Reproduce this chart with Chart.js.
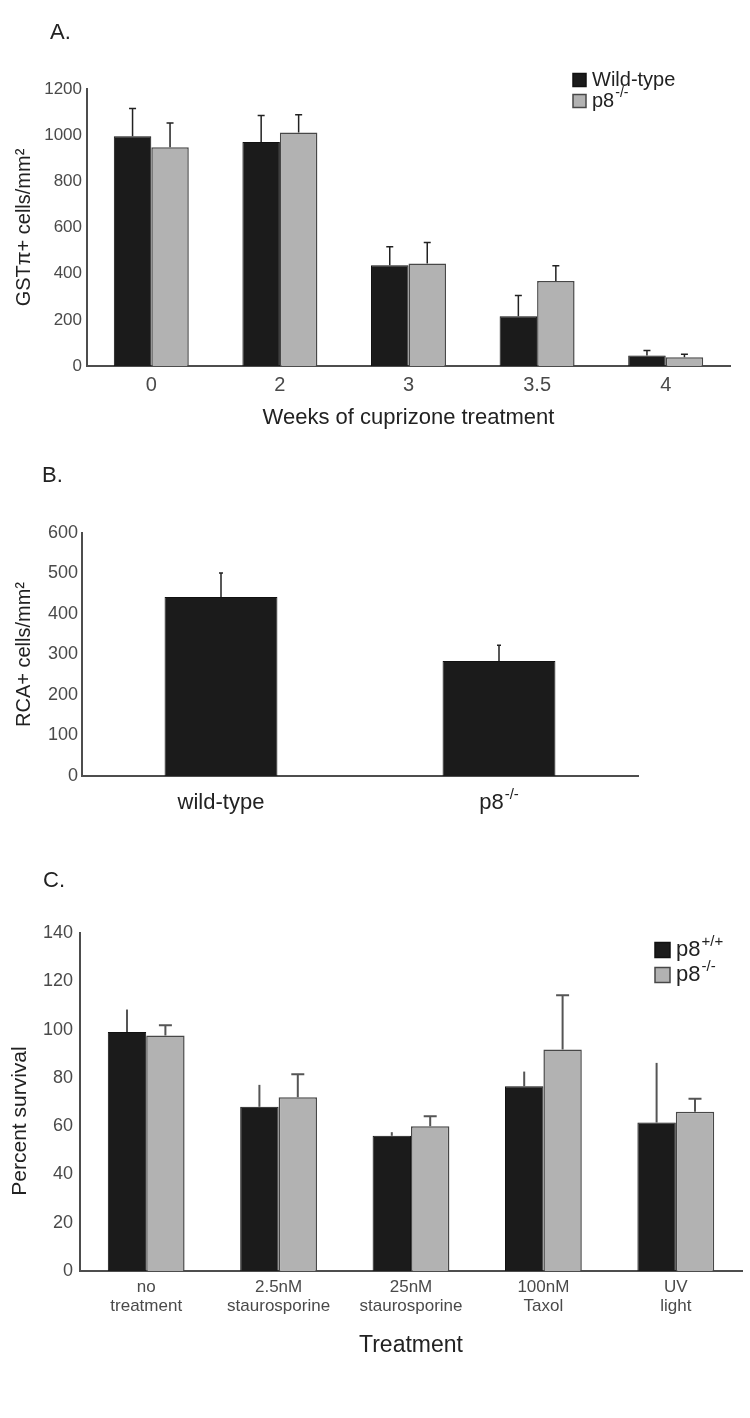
<!DOCTYPE html>
<html>
<head>
<meta charset="utf-8">
<title>p8 cuprizone figure</title>
<script src="https://cdn.jsdelivr.net/npm/chart.js@4.4.0/dist/chart.umd.min.js"></script>
<style>
  html, body { margin: 0; padding: 0; background: #fff; }
  #page { position: relative; width: 750px; height: 1418px; overflow: hidden; font-family: "Liberation Sans", Arial, sans-serif; }
  #page canvas { position: absolute; left: 0; }
  .panel-tag { position: absolute; font-size: 22px; line-height: 22px; color: #222; }
</style>
</head>
<body>
<div id="page">
  <canvas id="chartA" width="750" height="440" style="top:0"></canvas>
  <canvas id="chartB" width="750" height="400" style="top:440px"></canvas>
  <canvas id="chartC" width="750" height="578" style="top:840px"></canvas>
  <div class="panel-tag" style="left:50px;top:21px">A.</div>
  <div class="panel-tag" style="left:42px;top:464px">B.</div>
  <div class="panel-tag" style="left:43px;top:869px">C.</div>
</div>
<script>
// panel A - GSTpi+ cells per week of cuprizone
const weeks = ["0", "2", "3", "3.5", "4"];
const gstWild = [995, 970, 437, 216, 45];
const gstWildErr = [120, 115, 80, 89, 22];
const gstP8 = [948, 1012, 444, 368, 38];
const gstP8Err = [105, 76, 91, 66, 13];
const legendA = [["Wild-type", ""], ["p8", "-/-"]];

// panel B - RCA+ cells
const rcaGroups = ["wild-type", "p8"];
const rcaSup = ["", "-/-"];
const rcaValues = [442, 284];
const rcaErr = [59, 39];

// panel C - percent survival
const treatments = [["no", "treatment"], ["2.5nM", "staurosporine"], ["25nM", "staurosporine"], ["100nM", "Taxol"], ["UV", "light"]];
const survWild = [99, 68, 56, 76.5, 61.5];
const survWildErr = [9.3, 9.1, 1.5, 6.1, 24.7];
const survP8 = [97.5, 72, 60, 91.7, 66];
const survP8Err = [4.3, 9.5, 4.1, 22.5, 5.3];
const legendC = [["p8", "+/+"], ["p8", "-/-"]];

const FONT = '"Liberation Sans", Arial, sans-serif';
const BLACK = "#1b1b1b";
const GREY = "#b2b2b2";
const AXIS = "#4d4d4d";
const TICK = "#4a4a4a";
const TITLE = "#222";

Chart.defaults.font.family = FONT;

// text with a small raised part, e.g. p8 -/-
function drawSup(ctx, base, sup, x, y, size, align) {
  const big = size + "px " + FONT;
  const small = Math.round(size * 0.68) + "px " + FONT;
  ctx.font = big;
  const wBase = ctx.measureText(base).width;
  ctx.font = small;
  const wSup = sup ? ctx.measureText(sup).width + 1 : 0;
  let left = x;
  if (align === "center") left = x - (wBase + wSup) / 2;
  ctx.textAlign = "left";
  ctx.textBaseline = "middle";
  ctx.font = big;
  ctx.fillText(base, left, y);
  if (sup) {
    ctx.font = small;
    ctx.fillText(sup, left + wBase + 1, y - size * 0.38);
  }
}

// upward error bars from the bar tops
const errorBars = {
  id: "errorBars",
  afterDatasetsDraw(chart, args, opts) {
    const ctx = chart.ctx;
    const yScale = chart.scales.y;
    ctx.save();
    ctx.strokeStyle = opts.color;
    ctx.lineWidth = opts.width;
    opts.errors.forEach((errs, di) => {
      const meta = chart.getDatasetMeta(di);
      const vals = chart.data.datasets[di].data;
      const cap = opts.caps[di];
      meta.data.forEach((bar, j) => {
        const yTop = yScale.getPixelForValue(vals[j] + errs[j]);
        ctx.beginPath();
        ctx.moveTo(bar.x, bar.y);
        ctx.lineTo(bar.x, yTop);
        if (cap > 0) {
          ctx.moveTo(bar.x - cap / 2, yTop);
          ctx.lineTo(bar.x + cap / 2, yTop);
        }
        ctx.stroke();
      });
    });
    ctx.restore();
  }
};

// little square legend in the upper right
const boxLegend = {
  id: "boxLegend",
  afterDraw(chart, args, opts) {
    if (!opts.items) return;
    const ctx = chart.ctx;
    ctx.save();
    opts.items.forEach((it, i) => {
      const ds = chart.data.datasets[i];
      const cy = opts.y + i * opts.gap;
      ctx.fillStyle = ds.backgroundColor;
      ctx.fillRect(opts.x, cy - opts.box / 2, opts.box, opts.box);
      ctx.strokeStyle = ds.borderColor;
      ctx.lineWidth = 1.5;
      ctx.strokeRect(opts.x, cy - opts.box / 2, opts.box, opts.box);
      ctx.fillStyle = TITLE;
      drawSup(ctx, it[0], it[1], opts.x + opts.box + 6, cy, opts.size, "left");
    });
    ctx.restore();
  }
};

// category labels with superscripts (panel B)
const supTicks = {
  id: "supTicks",
  afterDraw(chart, args, opts) {
    if (!opts.labels) return;
    const ctx = chart.ctx;
    const xScale = chart.scales.x;
    ctx.save();
    ctx.fillStyle = TITLE;
    opts.labels.forEach((lab, i) => {
      drawSup(ctx, lab, opts.sups[i], xScale.getPixelForValue(i), opts.y, opts.size, "center");
    });
    ctx.restore();
  }
};

// rotated y title that sits a bit below the axis middle (panel C)
const sideTitle = {
  id: "sideTitle",
  afterDraw(chart, args, opts) {
    if (!opts.text) return;
    const ctx = chart.ctx;
    ctx.save();
    ctx.translate(opts.x, opts.y);
    ctx.rotate(-Math.PI / 2);
    ctx.font = opts.size + "px " + FONT;
    ctx.fillStyle = TITLE;
    ctx.textAlign = "center";
    ctx.textBaseline = "middle";
    ctx.fillText(opts.text, 0, 0);
    ctx.restore();
  }
};

function yScaleOpts(max, step, title, tickSize, titleSize, titlePad, tickPad, width) {
  return {
    min: 0, max: max,
    ticks: { stepSize: step, font: { size: tickSize }, color: TICK, padding: tickPad, callback: v => String(v) },
    grid: { display: false, drawTicks: false },
    border: { color: AXIS, width: 2 },
    title: { display: !!title, text: title, font: { size: titleSize }, color: TITLE, padding: { top: titlePad, bottom: 0 } },
    afterFit: s => { s.width = width; }
  };
}

new Chart(document.getElementById("chartA"), {
  type: "bar",
  data: {
    labels: weeks,
    datasets: [
      { label: "Wild-type", data: gstWild, backgroundColor: BLACK, borderColor: "#111", borderWidth: 1 },
      { label: "p8-/-", data: gstP8, backgroundColor: GREY, borderColor: "#474747", borderWidth: 1.5 }
    ]
  },
  options: {
    responsive: false,
    animation: false,
    layout: { padding: { top: 89, right: 20, left: 0, bottom: 0 } },
    datasets: { bar: { categoryPercentage: 0.583, barPercentage: 1 } },
    plugins: {
      legend: { display: false },
      tooltip: { enabled: false },
      errorBars: { errors: [gstWildErr, gstP8Err], caps: [7, 7], color: "#222", width: 1.5 },
      boxLegend: { items: legendA, x: 573, y: 80, gap: 21, box: 13, size: 20 }
    },
    scales: {
      x: {
        grid: { display: false, drawTicks: false },
        border: { color: AXIS, width: 2 },
        ticks: { font: { size: 20 }, color: TICK, padding: 7 },
        title: { display: true, text: "Weeks of cuprizone treatment", font: { size: 22 }, color: TITLE, padding: { top: 0, bottom: 9 } },
        afterFit: s => { s.height = 74; }
      },
      y: yScaleOpts(1200, 200, "GSTπ+ cells/mm²", 17, 20, 12, 5, 87)
    }
  },
  plugins: [errorBars, boxLegend]
});

new Chart(document.getElementById("chartB"), {
  type: "bar",
  data: {
    labels: rcaGroups,
    datasets: [
      { label: "RCA+", data: rcaValues, backgroundColor: BLACK, borderColor: "#111", borderWidth: 1 }
    ]
  },
  options: {
    responsive: false,
    animation: false,
    layout: { padding: { top: 93, right: 112, left: 0, bottom: 0 } },
    datasets: { bar: { categoryPercentage: 0.406, barPercentage: 1 } },
    plugins: {
      legend: { display: false },
      tooltip: { enabled: false },
      errorBars: { errors: [rcaErr], caps: [4], color: "#222", width: 1.5 },
      supTicks: { labels: rcaGroups, sups: rcaSup, y: 363, size: 22 }
    },
    scales: {
      x: {
        grid: { display: false, drawTicks: false },
        border: { color: AXIS, width: 2 },
        ticks: { display: false },
        afterFit: s => { s.height = 64; }
      },
      y: yScaleOpts(600, 100, "RCA+ cells/mm²", 18, 20, 12, 4, 82)
    }
  },
  plugins: [errorBars, supTicks]
});

new Chart(document.getElementById("chartC"), {
  type: "bar",
  data: {
    labels: treatments,
    datasets: [
      { label: "p8+/+", data: survWild, backgroundColor: BLACK, borderColor: "#111", borderWidth: 1 },
      { label: "p8-/-", data: survP8, backgroundColor: GREY, borderColor: "#474747", borderWidth: 1.5 }
    ]
  },
  options: {
    responsive: false,
    animation: false,
    layout: { padding: { top: 93, right: 8, left: 0, bottom: 0 } },
    datasets: { bar: { categoryPercentage: 0.58, barPercentage: 1 } },
    plugins: {
      legend: { display: false },
      tooltip: { enabled: false },
      errorBars: { errors: [survWildErr, survP8Err], caps: [0, 13], color: "#555", width: 2 },
      boxLegend: { items: legendC, x: 655, y: 110, gap: 25, box: 15, size: 22 },
      sideTitle: { text: "Percent survival", x: 20, y: 281, size: 21 }
    },
    scales: {
      x: {
        grid: { display: false, drawTicks: false },
        border: { color: AXIS, width: 2 },
        ticks: { font: { size: 17, lineHeight: 1.1 }, color: TICK, padding: 7 },
        title: { display: true, text: "Treatment", font: { size: 23 }, color: TITLE, padding: { top: 0, bottom: 59 } },
        afterFit: s => { s.height = 147; }
      },
      y: yScaleOpts(140, 20, "", 18, 21, 7, 7, 80)
    }
  },
  plugins: [errorBars, boxLegend, sideTitle]
});
</script>
</body>
</html>
